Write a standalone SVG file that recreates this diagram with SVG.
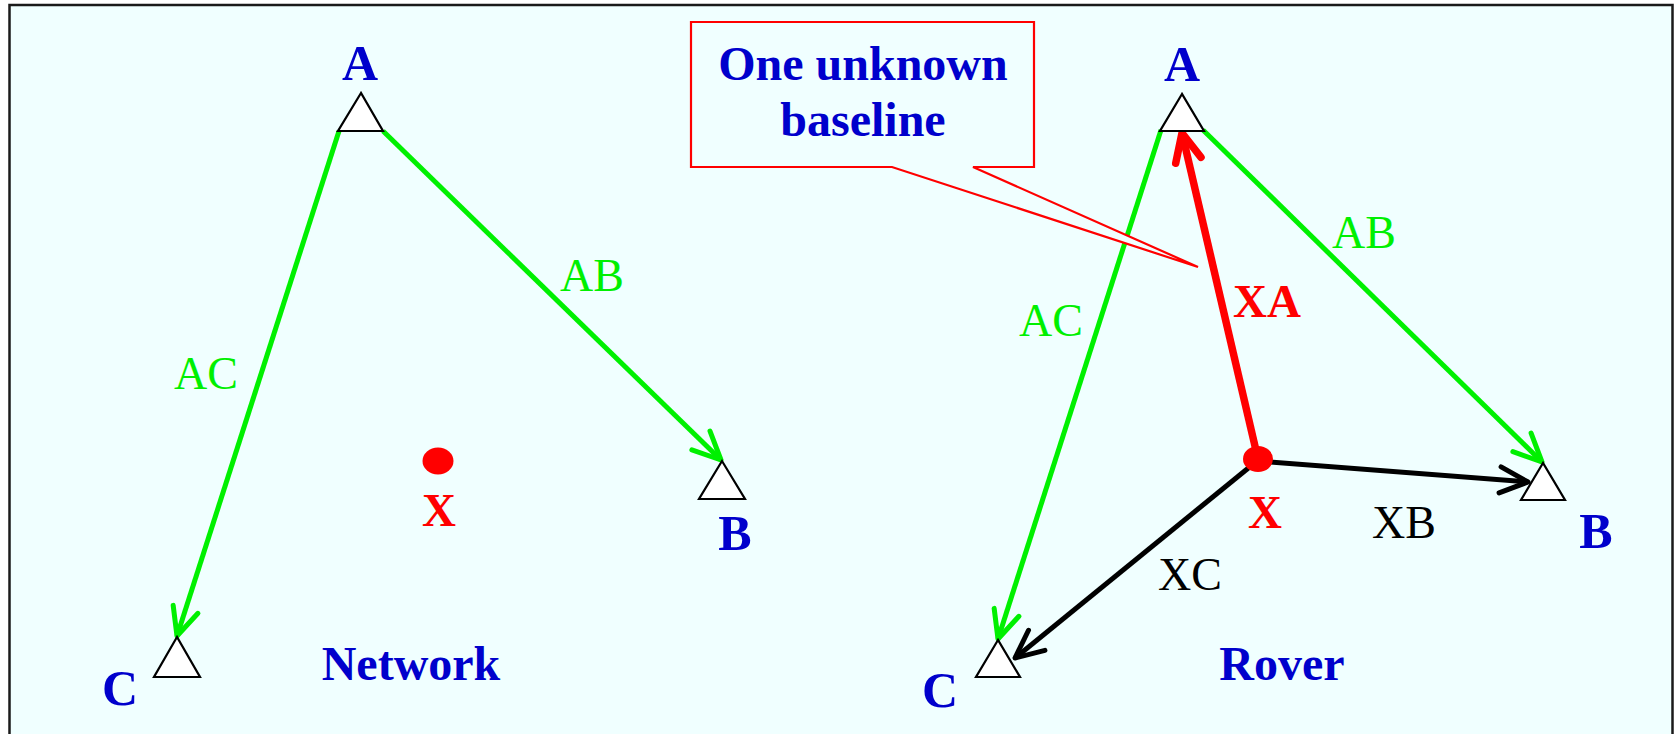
<svg xmlns="http://www.w3.org/2000/svg" width="1675" height="734" viewBox="0 0 1675 734">
<style>
.lbl{font-family:"Liberation Serif","Times New Roman",serif;text-anchor:middle}
.node{font-weight:bold;fill:#0000CC;font-size:50px}
.title{font-weight:bold;fill:#0000CC;font-size:48px}
.g{fill:#00F000;font-size:46px}
.k{fill:#000;font-size:46px}
.rx{fill:#FF0000;font-weight:bold;font-size:47px}
.tri{fill:#fff;stroke:#000;stroke-width:2.2}
.gl{stroke:#00F000;stroke-width:5;fill:none}
.bl{stroke:#000;stroke-width:5;fill:none}
.rl{stroke:#FF0000;stroke-width:7.5;fill:none}
</style>
<defs>
<marker id="ag" markerUnits="userSpaceOnUse" viewBox="-34 -20 40 40" markerWidth="40" markerHeight="40" refX="0" refY="0" orient="auto">
<path d="M-28,-13 L0,0 L-28,13" fill="none" stroke="#00F000" stroke-width="5" stroke-linecap="round" stroke-linejoin="round"/>
</marker>
<marker id="ak" markerUnits="userSpaceOnUse" viewBox="-34 -20 40 40" markerWidth="40" markerHeight="40" refX="0" refY="0" orient="auto">
<path d="M-28,-13 L0,0 L-28,13" fill="none" stroke="#000" stroke-width="5" stroke-linecap="round" stroke-linejoin="round"/>
</marker>
<marker id="ar" markerUnits="userSpaceOnUse" viewBox="-34 -20 40 40" markerWidth="40" markerHeight="40" refX="0" refY="0" orient="auto">
<path d="M-28,-13 L0,0 L-28,13" fill="none" stroke="#FF0000" stroke-width="7.5" stroke-linecap="round" stroke-linejoin="round"/>
</marker>
</defs>
<rect x="0" y="0" width="1675" height="734" fill="#fff"/>
<rect x="9.5" y="5" width="1663" height="740" fill="#F0FFFF" stroke="#1a1a1a" stroke-width="2.5"/>

<g id="connectors">
<line class="gl" x1="339" y1="131" x2="177" y2="636" marker-end="url(#ag)"/>
<line class="gl" x1="383" y1="131" x2="721" y2="460" marker-end="url(#ag)"/>
<line class="gl" x1="1161" y1="130" x2="998" y2="639" marker-end="url(#ag)"/>
<line class="gl" x1="1203" y1="130" x2="1542" y2="462" marker-end="url(#ag)"/>
<line class="rl" x1="1258" y1="459" x2="1182" y2="133" marker-end="url(#ar)"/>
<line class="bl" x1="1257" y1="461" x2="1528" y2="482" marker-end="url(#ak)"/>
<line class="bl" x1="1257" y1="461" x2="1015" y2="658" marker-end="url(#ak)"/>
<text class="lbl g" x="206" y="389">AC</text>
<text class="lbl g" x="592" y="291">AB</text>
<text class="lbl g" x="1051" y="336">AC</text>
<text class="lbl g" x="1364" y="248">AB</text>
<text class="lbl rx" x="1267" y="317">XA</text>
<text class="lbl k" x="1404" y="538">XB</text>
<text class="lbl k" x="1190" y="590">XC</text>
</g>

<g id="net-A">
<polygon class="tri" points="361,93 338,131 383,131"/>
<text class="lbl node" x="360" y="80">A</text>
</g>
<g id="net-B">
<polygon class="tri" points="722,461 699,499 745,499"/>
<text class="lbl node" x="735" y="550">B</text>
</g>
<g id="net-C">
<polygon class="tri" points="177,637 154,677 200,677"/>
<text class="lbl node" x="120" y="705">C</text>
</g>
<g id="net-X">
<ellipse cx="438" cy="461" rx="15.5" ry="13.5" fill="#FF0000"/>
<text class="lbl rx" x="439" y="526">X</text>
</g>
<g id="net-title">
<text class="lbl title" x="411" y="680">Network</text>
</g>

<g id="rov-A">
<polygon class="tri" points="1182,94 1160,131 1204,131"/>
<text class="lbl node" x="1182" y="81">A</text>
</g>
<g id="rov-B">
<polygon class="tri" points="1543,463 1521,500 1565,500"/>
<text class="lbl node" x="1596" y="548">B</text>
</g>
<g id="rov-C">
<polygon class="tri" points="998,640 976,677 1020,677"/>
<text class="lbl node" x="940" y="707">C</text>
</g>
<g id="rov-X">
<ellipse cx="1258" cy="459" rx="15" ry="13" fill="#FF0000"/>
<text class="lbl rx" x="1265" y="528">X</text>
</g>
<g id="rov-title">
<text class="lbl title" x="1282" y="680">Rover</text>
</g>

<g id="callout">
<polygon points="691,22 1034,22 1034,167 973,167 1198,267 892,167 691,167" fill="#F0FFFF" stroke="#FF0000" stroke-width="2.2"/>
<text class="lbl title" x="863" y="80">One unknown</text>
<text class="lbl title" x="863" y="136">baseline</text>
</g>
</svg>
